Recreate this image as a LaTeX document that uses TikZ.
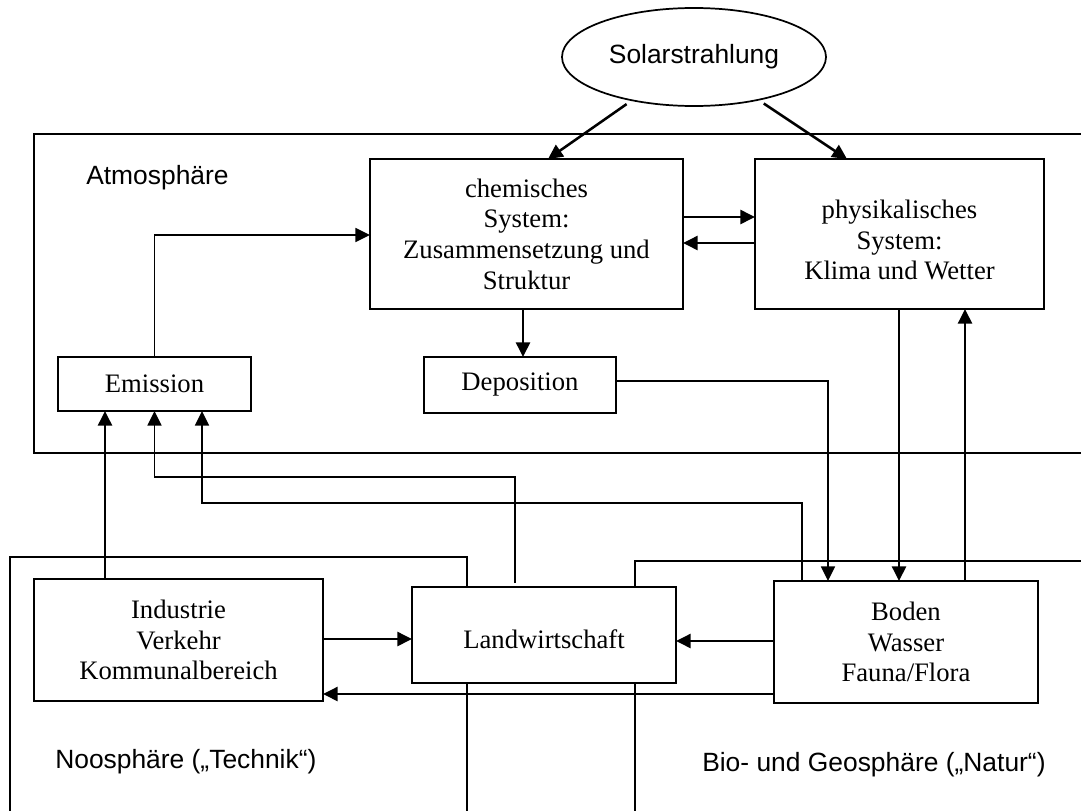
\documentclass[tikz,border=0pt]{standalone}
\usepackage{fontspec}
\setmainfont{Liberation Serif}
\newfontfamily\arialfont{Liberation Sans}
\usetikzlibrary{arrows.meta,shapes.geometric}
\begin{document}
\begin{tikzpicture}[x=0.75pt,y=-0.75pt,
  box/.style={draw,line width=1.5pt,inner sep=0pt,outer sep=0pt,align=center,font=\fontsize{20}{23}\selectfont},
  txt/.style={inner sep=0pt,align=center,font=\fontsize{20}{23}\selectfont},
  region/.style={line width=1.5pt},
  lbl/.style={inner sep=0pt,anchor=base west,font=\arialfont\fontsize{19.8}{23}\selectfont},
  arr/.style={line width=1.9pt,-{Triangle[length=11pt,width=10.5pt]}},
  tarr/.style={line width=1.3pt,-{Triangle[length=11pt,width=10.5pt]}},
]
\useasboundingbox (0,0) rectangle (1081,810);

% helper coordinates
\foreach \xx in {105,154,202,467,515,523,548,635,802,828,847,899,965}
  {\coordinate (x\xx) at (\xx,0);}
\foreach \yy in {217,235,243,381,477,503,639,641,694}
  {\coordinate (y\yy) at (0,\yy);}

% atmosphere outline
\draw[region] (1090,134) -- (34,134) -- (34,453) -- (1090,453);

% nodes
\node[draw,ellipse,line width=1.3pt,minimum width=198pt,minimum height=73.5pt,inner sep=0pt,outer sep=0pt,font=\arialfont\fontsize{19.8}{23}\selectfont] (sol) at (694,57) {Solarstrahlung};

\node[box,minimum width=234.75pt,minimum height=112.5pt] (chem) at (526.5,234) {chemisches\\System:\\Zusammensetzung und\\Struktur};
\node[box,minimum width=216.75pt,minimum height=112.5pt] (phys) at (899.5,234) {};
\node[txt] (physt) at (899.5,240) {physikalisches\\System:\\Klima und Wetter};
\node[box,minimum width=144.75pt,minimum height=40.5pt] (em) at (154.5,384) {Emission};
\node[box,minimum width=144pt,minimum height=42pt] (dep) at (520,385) {Deposition};
\node[box,minimum width=216.75pt,minimum height=91.5pt] (ind) at (178.5,640) {Industrie\\Verkehr\\Kommunalbereich};
\node[box,minimum width=198pt,minimum height=72pt] (lw) at (544,635) {};
\node[txt] (lwt) at (544,639) {Landwirtschaft};
\node[box,minimum width=198pt,minimum height=91.5pt] (bod) at (906,642) {Boden\\Wasser\\Fauna/Flora};

% noosphere and bio-/geosphere outlines
\draw[region] (10,815) -- (10,557) -- (467,557) -- (lw.north -| x467);
\draw[region] (lw.south -| x467) -- (467,815);
\draw[region] (1090,561) -- (635,561) -- (lw.north -| x635);
\draw[region] (lw.south -| x635) -- (635,815);

% labels
\node[lbl] (atm) at (86,184) {Atmosphäre};
\node[lbl] (noo) at (55,768) {Noosphäre („Technik“)};
\node[lbl] (bio) at (702,771) {Bio- und Geosphäre („Natur“)};

% connectors
\draw[arr,shorten <=5pt] (sol) -- (chem.north -| x548);
\draw[arr,shorten <=5pt] (sol) -- (phys.north -| x847);
\draw[arr] (chem.east |- y217) -- (phys.west |- y217);
\draw[arr] (phys.west |- y243) -- (chem.east |- y243);
\draw[arr] (chem.south -| x523) -- (dep.north -| x523);
\draw[tarr] (em.north) |- (chem.west |- y235);
\draw[tarr] (dep.east |- y381) -| (bod.north -| x828);
\draw[arr] (phys.south -| x899) -- (bod.north -| x899);
\draw[arr] (bod.north -| x965) -- (phys.south -| x965);
\draw[arr] (ind.north -| x105) -- (em.south -| x105);
\draw[tarr,shorten <=3pt] (lw.north -| x515) -- (x515 |- y477) -| (em.south);
\draw[tarr] (bod.north -| x802) -- (x802 |- y503) -| (em.south -| x202);
\draw[arr] (ind.east |- y639) -- (lw.west |- y639);
\draw[arr] (bod.west |- y641) -- (lw.east |- y641);
\draw[arr] (bod.west |- y694) -- (ind.east |- y694);
\end{tikzpicture}
\end{document}
